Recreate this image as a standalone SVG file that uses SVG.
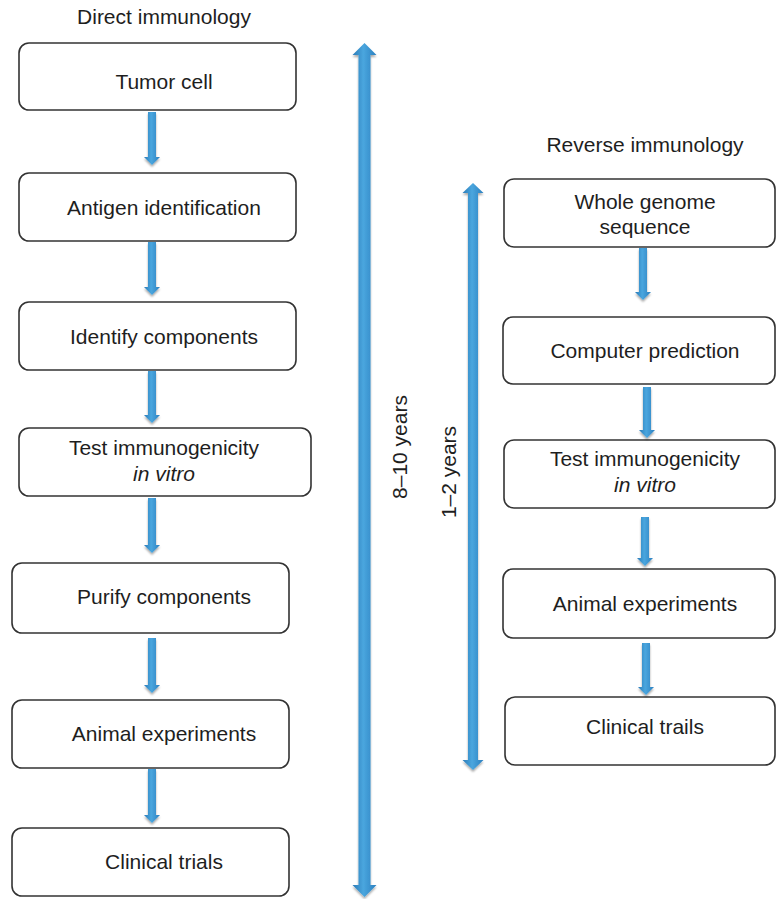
<svg xmlns="http://www.w3.org/2000/svg" width="777" height="899" viewBox="0 0 777 899">
  <defs>
    <linearGradient id="shaft" x1="0" y1="0" x2="1" y2="0">
      <stop offset="0" stop-color="#2a7bb8"/>
      <stop offset="0.45" stop-color="#4aa6de"/>
      <stop offset="1" stop-color="#2c80c0"/>
    </linearGradient>
    <filter id="soft" x="-10%" y="-10%" width="120%" height="130%">
      <feGaussianBlur in="SourceAlpha" stdDeviation="1.2"/>
      <feOffset dx="0" dy="1.5"/>
      <feComponentTransfer><feFuncA type="linear" slope="0.35"/></feComponentTransfer>
      <feMerge><feMergeNode/><feMergeNode in="SourceGraphic"/></feMerge>
    </filter>
  </defs>
  <style>
    .box { fill: #ffffff; stroke: #333333; stroke-width: 1.6; }
    .lbl { font-family: "Liberation Sans", Arial, sans-serif; font-size: 21px; fill: #1e1e1e; text-anchor: middle; }
    .it { font-style: italic; }
    .arr { fill: url(#shaft); filter: url(#soft); }
    .head { fill: #4fa9e0; }
  </style>

  <!-- column headings -->
  <text class="lbl" x="164" y="24">Direct immunology</text>
  <text class="lbl" x="645" y="152">Reverse immunology</text>

  <!-- direct immunology steps -->
  <g id="tumor-cell">
    <rect class="box" x="19" y="43" width="277" height="67" rx="10"/>
    <text class="lbl" x="164" y="89">Tumor cell</text>
  </g>
  <g id="antigen-identification">
    <rect class="box" x="19" y="173" width="277" height="68" rx="10"/>
    <text class="lbl" x="164" y="215">Antigen identification</text>
  </g>
  <g id="identify-components">
    <rect class="box" x="19" y="302" width="277" height="68" rx="10"/>
    <text class="lbl" x="164" y="344">Identify components</text>
  </g>
  <g id="test-immunogenicity-direct">
    <rect class="box" x="19" y="428" width="292" height="68" rx="10"/>
    <text class="lbl" x="164" y="455">Test immunogenicity</text>
    <text class="lbl it" x="164" y="481">in vitro</text>
  </g>
  <g id="purify-components">
    <rect class="box" x="12" y="563" width="277" height="70" rx="10"/>
    <text class="lbl" x="164" y="604">Purify components</text>
  </g>
  <g id="animal-experiments-direct">
    <rect class="box" x="12" y="700" width="277" height="68" rx="10"/>
    <text class="lbl" x="164" y="741">Animal experiments</text>
  </g>
  <g id="clinical-trials">
    <rect class="box" x="12" y="828" width="277" height="68" rx="10"/>
    <text class="lbl" x="164" y="869">Clinical trials</text>
  </g>

  <!-- reverse immunology steps -->
  <g id="whole-genome-sequence">
    <rect class="box" x="504" y="179" width="271" height="68" rx="10"/>
    <text class="lbl" x="645" y="209">Whole genome</text>
    <text class="lbl" x="645" y="234">sequence</text>
  </g>
  <g id="computer-prediction">
    <rect class="box" x="503" y="317" width="272" height="67" rx="10"/>
    <text class="lbl" x="645" y="358">Computer prediction</text>
  </g>
  <g id="test-immunogenicity-reverse">
    <rect class="box" x="504" y="440" width="271" height="68" rx="10"/>
    <text class="lbl" x="645" y="466">Test immunogenicity</text>
    <text class="lbl it" x="645" y="492">in vitro</text>
  </g>
  <g id="animal-experiments-reverse">
    <rect class="box" x="503" y="569" width="272" height="69" rx="10"/>
    <text class="lbl" x="645" y="611">Animal experiments</text>
  </g>
  <g id="clinical-trails">
    <rect class="box" x="505" y="697" width="270" height="68" rx="10"/>
    <text class="lbl" x="645" y="734">Clinical trails</text>
  </g>

  <!-- connectors -->
  <g id="connectors">
    <!-- direct column, shaft x 148-156 -->
    <path class="arr" d="M148,112 H156 V157 H160 L152,165 L144,157 H148 Z"/>
    <path class="arr" d="M148,242 H156 V287 H160 L152,295 L144,287 H148 Z"/>
    <path class="arr" d="M148,371 H156 V415 H160 L152,423 L144,415 H148 Z"/>
    <path class="arr" d="M148,498 H156 V545 H160 L152,553 L144,545 H148 Z"/>
    <path class="arr" d="M148,638 H156 V685 H160 L152,693 L144,685 H148 Z"/>
    <path class="arr" d="M148,769 H156 V815 H160 L152,823 L144,815 H148 Z"/>
    <!-- reverse column -->
    <path class="arr" d="M639,248 H647 V292 H651 L643,300 L635,292 H639 Z"/>
    <path class="arr" d="M643,387 H651 V430 H655 L647,438 L639,430 H643 Z"/>
    <path class="arr" d="M641,517 H649 V558 H653 L645,566 L637,558 H641 Z"/>
    <path class="arr" d="M642,643 H650 V687 H654 L646,695 L638,687 H642 Z"/>

    <!-- time span, direct route -->
    <path class="arr" d="M358.5,55 H352.5 L364.5,43 L376.5,55 H370.5 V885 H376.5 L364.5,897 L352.5,885 H358.5 Z"/>
    <!-- time span, reverse route -->
    <path class="arr" d="M468,193 H462.5 L473,183 L483.5,193 H478 V760 H483.5 L473,770 L462.5,760 H468 Z"/>
  </g>

  <!-- durations -->
  <text class="lbl" transform="translate(407,447) rotate(-90)">8–10 years</text>
  <text class="lbl" transform="translate(456,472) rotate(-90)">1–2 years</text>
</svg>
